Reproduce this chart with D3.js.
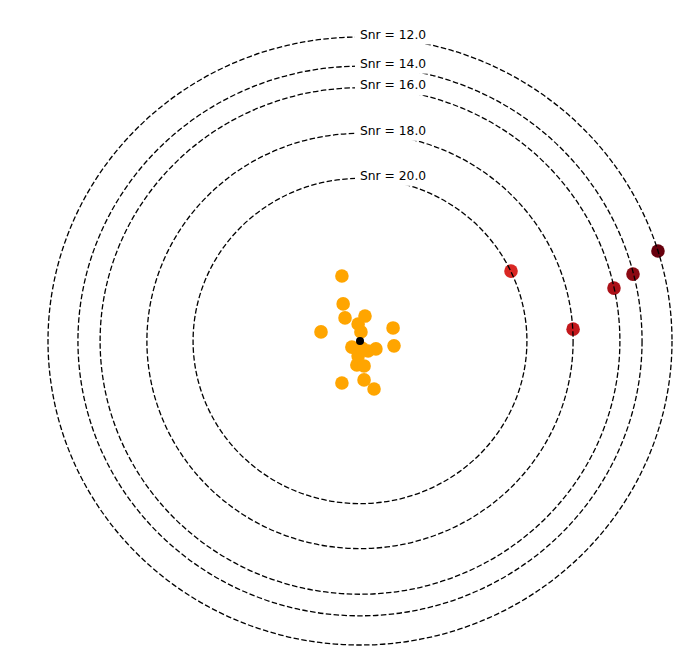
<!DOCTYPE html>
<html>
<head>
<meta charset="utf-8">
<script src="https://cdn.jsdelivr.net/npm/d3@7"></script>
<style>
  body { margin: 0; background: #fff; }
  text { font-family: "DejaVu Sans", sans-serif; }
</style>
</head>
<body>
<div id="chart"></div>
<script>
"use strict";

// iso-snr contour levels and their radius (normalised units)
var snrLevels = [12, 14, 16, 18, 20];
var levelRadii = [1.0, 0.904, 0.833, 0.683, 0.535];

// orange cluster around the centre
var clusterX = [-0.058, -0.054, -0.048, -0.006, 0.016, 0.003, -0.125, 0.106, -0.026, 0.026,
                0.051, 0.109, -0.006, -0.010, 0.013, -0.058, 0.013, 0.045, 0.006];
var clusterY = [0.214, 0.122, 0.076, 0.056, 0.082, 0.030, 0.030, 0.043, -0.020, -0.033,
                -0.026, -0.016, -0.049, -0.079, -0.082, -0.138, -0.128, -0.158, -0.023];

// detections lying on the contours
var outlierX = [0.484, 0.683, 0.814, 0.875, 0.955];
var outlierY = [0.230, 0.039, 0.174, 0.220, 0.296];
var outlierSnr = [20, 18, 16, 14, 12];

var width = 697, height = 654;

var svg = d3.select("#chart").append("svg")
    .attr("width", width)
    .attr("height", height);

var x = d3.scaleLinear().domain([-1, 1]).range([48, 672]);
var y = d3.scaleLinear().domain([-1, 1]).range([645, 37]);

// colour of detections by snr
var shade = d3.scaleLinear().domain([20, 12]).range([0.7, 1.0]);

var cluster = clusterX.map(function(d, i) { return {x: d, y: clusterY[i]}; });
var outliers = outlierX.map(function(d, i) { return {x: d, y: outlierY[i], snr: outlierSnr[i]}; });

svg.append("g").selectAll("circle")
    .data(cluster)
    .enter().append("circle")
    .attr("cx", d => x(d.x))
    .attr("cy", d => y(d.y))
    .attr("r", 6.8)
    .style("fill", "#ffa500");

svg.append("g").selectAll("circle")
    .data(outliers)
    .enter().append("circle")
    .attr("cx", d => x(d.x))
    .attr("cy", d => y(d.y))
    .attr("r", 6.8)
    .style("fill", d => d3.interpolateReds(shade(d.snr)));

// centre marker
svg.append("circle")
    .attr("cx", x(0))
    .attr("cy", y(0))
    .attr("r", 4)
    .style("fill", "#000");

// dashed contours
var levels = snrLevels.map(function(s, i) { return {snr: s, r: levelRadii[i]}; });

svg.append("g").selectAll("ellipse")
    .data(levels)
    .enter().append("ellipse")
    .attr("cx", x(0))
    .attr("cy", y(0))
    .attr("rx", d => x(d.r) - x(0))
    .attr("ry", d => y(0) - y(d.r))
    .style("fill", "none")
    .style("stroke", "#000")
    .style("stroke-width", 1.3)
    .style("stroke-dasharray", "5.5,2.4");

// inline labels, with a white box cutting the line
var labels = svg.append("g").selectAll("g")
    .data(levels)
    .enter().append("g");

labels.append("rect")
    .attr("x", x(0) - 5)
    .attr("y", d => y(d.r) + 1.5 - 13)
    .attr("width", 78)
    .attr("height", 19)
    .style("fill", "#fff");

labels.append("text")
    .attr("x", x(0))
    .attr("y", d => y(d.r) + 1.5)
    .style("font-size", "12.3px")
    .style("fill", "#000")
    .text(d => "Snr = " + d3.format(".1f")(d.snr));
</script>
</body>
</html>
